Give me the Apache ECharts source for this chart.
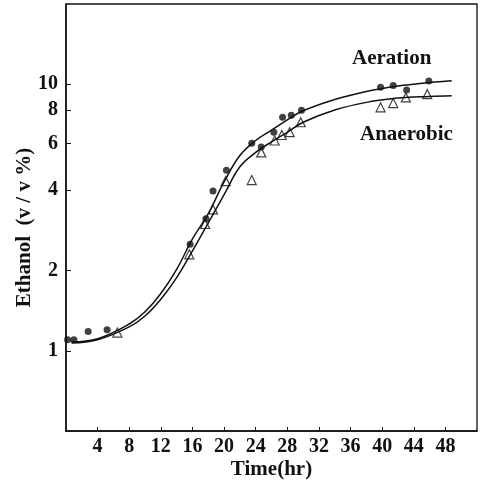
<!DOCTYPE html>
<html>
<head>
<meta charset="utf-8">
<script src="https://cdn.jsdelivr.net/npm/echarts@6/dist/echarts.min.js"></script>
<style>
  html, body { margin: 0; padding: 0; background: #fff; }
  #chart { width: 480px; height: 480px; }
</style>
</head>
<body>
<div id="chart"></div>
<script>
const aerationTime = [0.2, 1.0, 2.8, 5.2, 15.7, 17.7, 18.6, 20.3, 23.5, 24.7, 26.3, 27.4, 28.5, 29.8, 39.8, 41.4, 43.1, 45.9]
const aerationEthanol = [1.10, 1.10, 1.18, 1.20, 2.51, 3.13, 3.98, 4.76, 6.0, 5.82, 6.61, 7.52, 7.65, 7.98, 9.75, 9.89, 9.52, 10.29]
const anaerobicTime = [6.5, 15.6, 17.6, 18.6, 20.2, 23.5, 24.7, 26.4, 27.3, 28.3, 29.7, 39.8, 41.4, 43.0, 45.7]
const anaerobicEthanol = [1.17, 2.30, 2.99, 3.39, 4.33, 4.37, 5.55, 6.15, 6.45, 6.61, 7.20, 8.19, 8.50, 8.92, 9.18]

// 拟合曲线
const curveTime = [0.7, 4, 8, 10, 12, 14, 16, 18, 20, 22, 24, 26, 28, 30, 34, 38, 42, 46, 48.8]
const aerationFit = [1.08, 1.11, 1.26, 1.40, 1.64, 2.02, 2.63, 3.27, 4.30, 5.40, 6.15, 6.72, 7.35, 7.95, 8.77, 9.40, 9.85, 10.15, 10.31]
const anaerobicFit = [1.07, 1.10, 1.23, 1.35, 1.56, 1.88, 2.37, 3.02, 3.85, 4.90, 5.55, 6.08, 6.60, 7.20, 8.00, 8.55, 8.87, 9.00, 9.05]

// 刻度
const yTicks = [1, 2, 4, 6, 8, 10]
const xTicks = [4, 8, 12, 16, 20, 24, 28, 32, 36, 40, 44, 48]

const zip = (xs, ys) => xs.map((x, i) => [x, ys[i]])
const FONT = '"Liberation Serif", "DejaVu Serif", serif'

let chart = echarts.init(document.getElementById('chart'), null, { renderer: 'canvas' })

chart.setOption({
  animation: false,
  backgroundColor: '#fff',
  grid: {
    left: 66, top: 4, right: 3, bottom: 49,
    outerBoundsMode: 'none', containLabel: false,
    show: true, borderColor: '#111', borderWidth: 1.3
  },
  xAxis: {
    type: 'value', min: 0, max: 52, interval: 4,
    name: 'Time(hr)', nameLocation: 'middle', nameGap: 28, nameMoveOverlap: false,
    nameTextStyle: { fontFamily: FONT, fontWeight: 'bold', fontSize: 21, color: '#111' },
    axisLine: { lineStyle: { color: '#111', width: 1.5 } },
    axisTick: { inside: true, length: 4, lineStyle: { color: '#111' }, customValues: xTicks },
    axisLabel: { customValues: xTicks, fontFamily: FONT, fontWeight: 'bold', fontSize: 20, color: '#111', margin: 6 },
    splitLine: { show: false }
  },
  yAxis: {
    type: 'log', logBase: 10, min: 0.5, max: 20,
    name: 'Ethanol  (v / v %)', nameLocation: 'middle', nameGap: 31, nameRotate: 90, nameMoveOverlap: false,
    nameTextStyle: { fontFamily: FONT, fontWeight: 'bold', fontSize: 21, color: '#111', padding: [0, 20, 0, 0] },
    axisLine: { lineStyle: { color: '#111', width: 1.5 } },
    axisTick: { inside: true, length: 5, lineStyle: { color: '#111' }, customValues: yTicks },
    axisLabel: { customValues: yTicks, fontFamily: FONT, fontWeight: 'bold', fontSize: 20, color: '#111', margin: 8 },
    splitLine: { show: false }
  },
  graphic: [
    { type: 'text', left: 352, top: 48, style: { text: 'Aeration', font: 'bold 21px ' + FONT, fill: '#111' } },
    { type: 'text', left: 360, top: 124, style: { text: 'Anaerobic', font: 'bold 21px ' + FONT, fill: '#111' } }
  ],
  series: [
    {
      name: 'Aeration fit', type: 'line', smooth: 0.4, showSymbol: false, silent: true,
      lineStyle: { color: '#111', width: 1.5 }, data: zip(curveTime, aerationFit)
    },
    {
      name: 'Anaerobic fit', type: 'line', smooth: 0.4, showSymbol: false, silent: true,
      lineStyle: { color: '#111', width: 1.5 }, data: zip(curveTime, anaerobicFit)
    },
    {
      name: 'Anaerobic', type: 'scatter', symbol: 'triangle', symbolSize: 9,
      itemStyle: { color: '#fff', borderColor: '#111', borderWidth: 1.2 },
      data: zip(anaerobicTime, anaerobicEthanol)
    },
    {
      name: 'Aeration', type: 'scatter', symbol: 'circle', symbolSize: 7,
      itemStyle: { color: '#111' },
      data: zip(aerationTime, aerationEthanol)
    }
  ]
})
</script>
</body>
</html>
